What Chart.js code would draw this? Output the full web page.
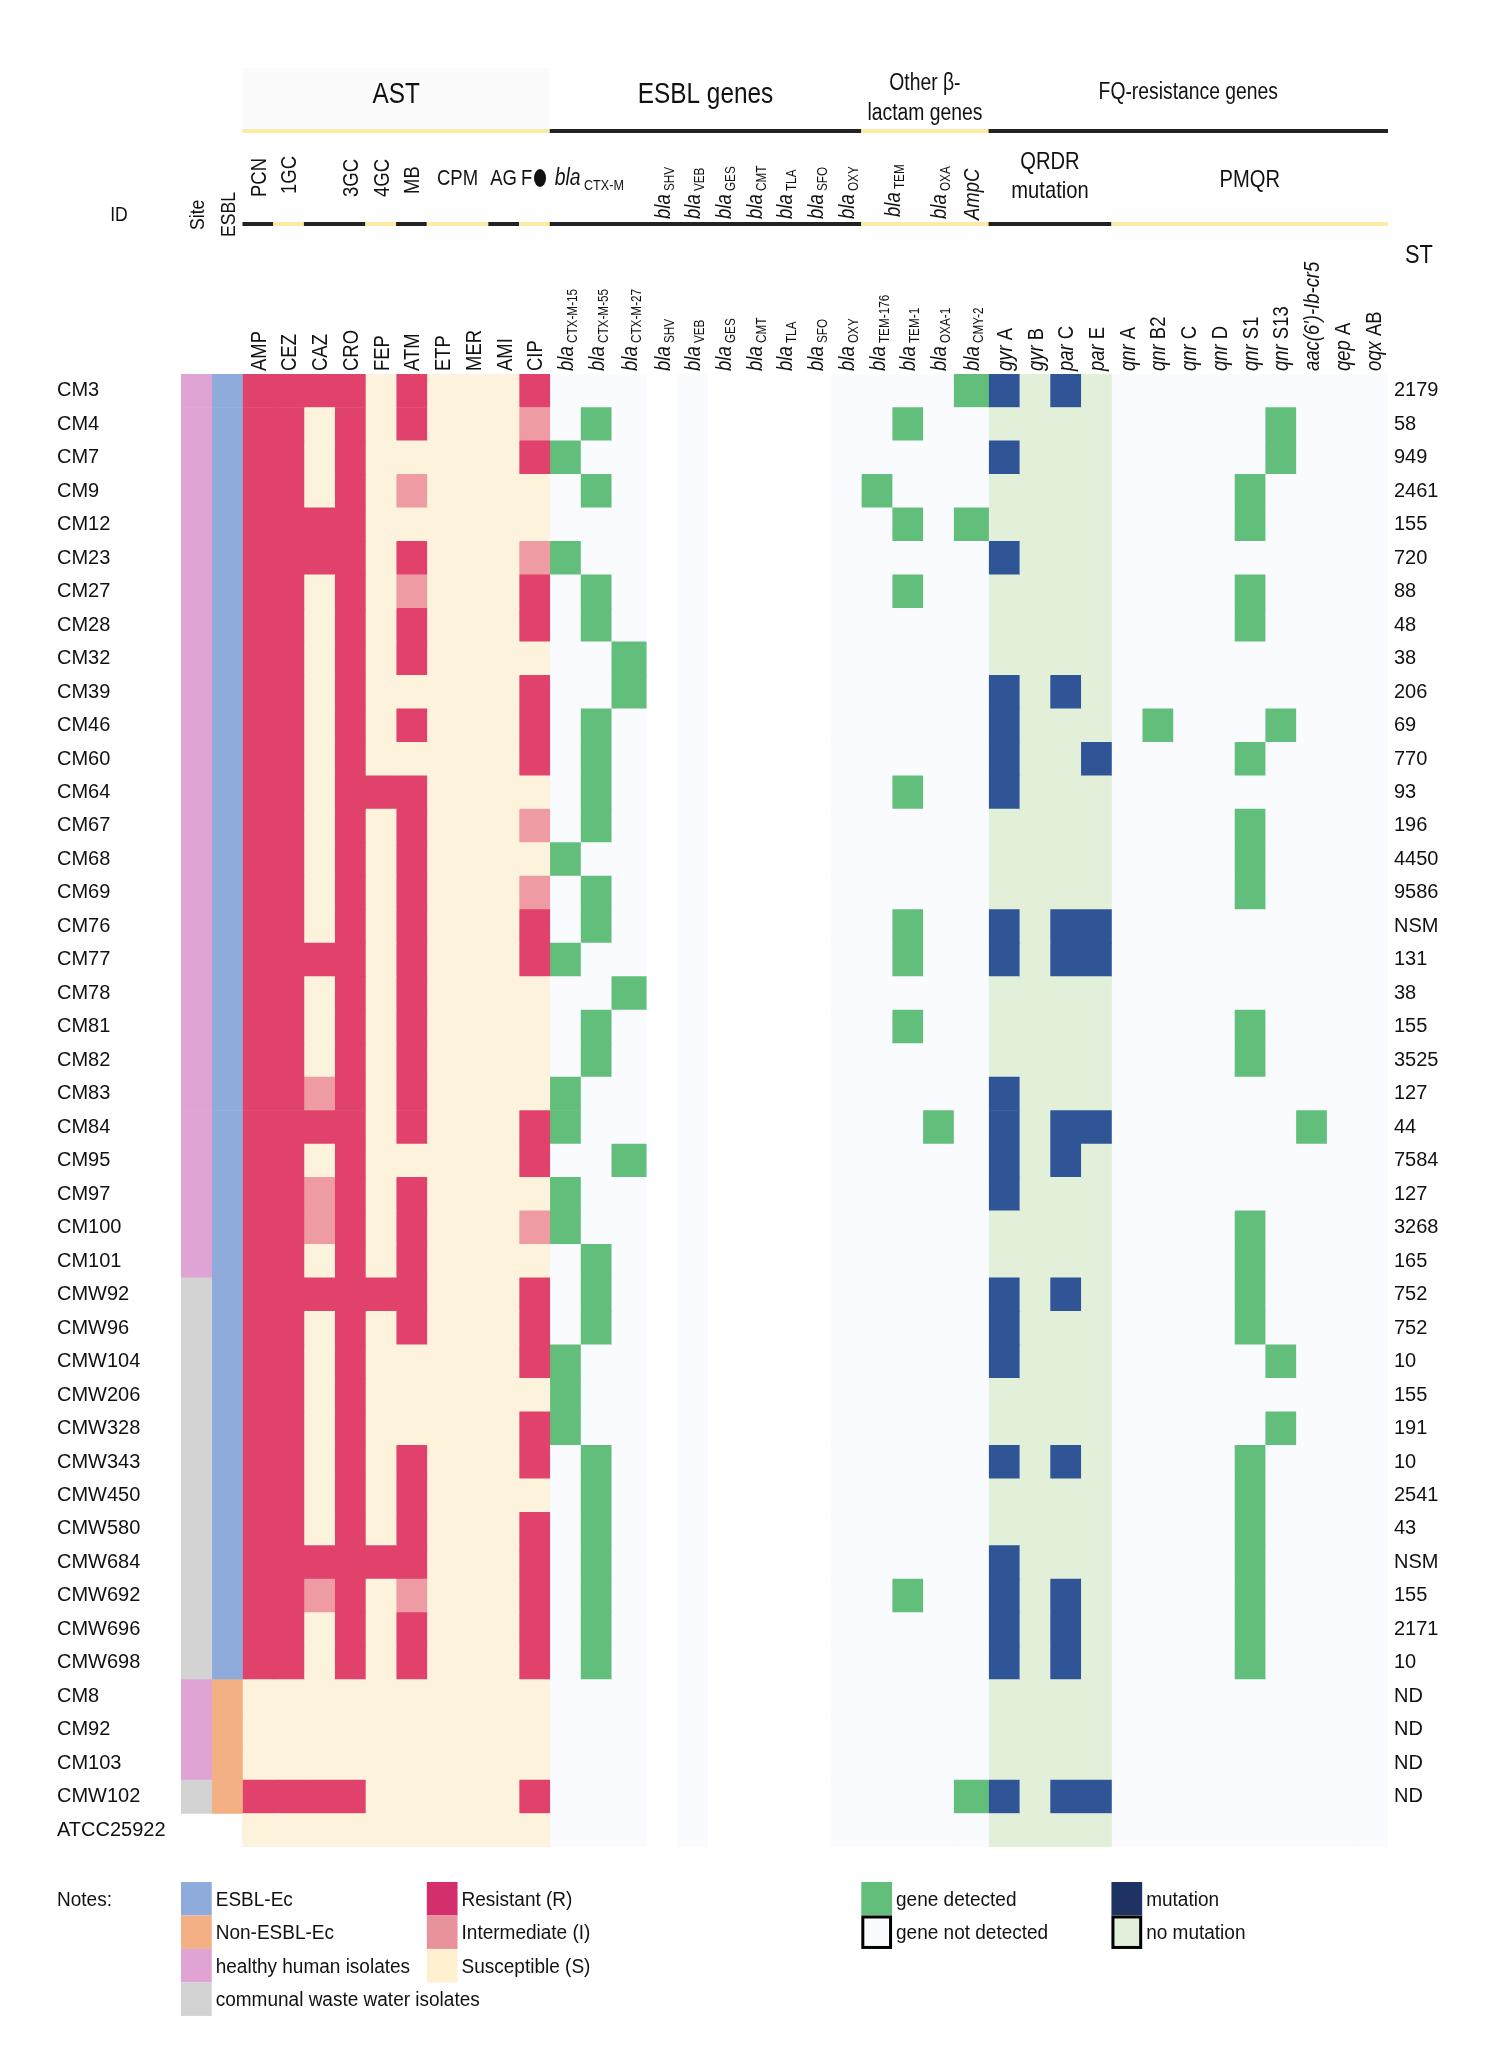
<!DOCTYPE html>
<html>
<head>
<meta charset="utf-8">
<script src="https://cdn.jsdelivr.net/npm/chart.js@4.4.1/dist/chart.umd.min.js"></script>
<style>
  html, body { margin: 0; padding: 0; background: #fff; }
  canvas { display: block; }
</style>
</head>
<body>
<canvas id="heat" width="1502" height="2072"></canvas>
<script>
// isolates (rows) and their sequence types
const ids = ['CM3','CM4','CM7','CM9','CM12','CM23','CM27','CM28','CM32','CM39','CM46','CM60','CM64','CM67','CM68','CM69','CM76','CM77','CM78','CM81','CM82','CM83','CM84','CM95','CM97','CM100','CM101','CMW92','CMW96','CMW104','CMW206','CMW328','CMW343','CMW450','CMW580','CMW684','CMW692','CMW696','CMW698','CM8','CM92','CM103','CMW102','ATCC25922'];
const stTypes = ['2179','58','949','2461','155','720','88','48','38','206','69','770','93','196','4450','9586','NSM','131','38','155','3525','127','44','7584','127','3268','165','752','752','10','155','191','10','2541','43','NSM','155','2171','10','ND','ND','ND','ND',''];

// H = healthy human, W = communal waste water ; E = ESBL-Ec, N = non-ESBL-Ec
const site = 'HHHHHHHHHHHHHHHHHHHHHHHHHHHWWWWWWWWWWWWHHHW-'.split('');
const esbl = 'EEEEEEEEEEEEEEEEEEEEEEEEEEEEEEEEEEEEEEENNNN-'.split('');

// AST results, one letter per drug (R / I / S)
const astDrugs = ['AMP','CEZ','CAZ','CRO','FEP','ATM','ETP','MER','AMI','CIP'];
const astResults = [
  'RRRRSRSSSR','RRSRSRSSSI','RRSRSSSSSR','RRSRSISSSS','RRRRSSSSSS','RRRRSRSSSI',
  'RRSRSISSSR','RRSRSRSSSR','RRSRSRSSSS','RRSRSSSSSR','RRSRSRSSSR','RRSRSSSSSR',
  'RRSRRRSSSS','RRSRSRSSSI','RRSRSRSSSS','RRSRSRSSSI','RRSRSRSSSR','RRRRSRSSSR',
  'RRSRSRSSSS','RRSRSRSSSS','RRSRSRSSSS','RRIRSRSSSS','RRRRSRSSSR','RRSRSSSSSR',
  'RRIRSRSSSS','RRIRSRSSSI','RRSRSRSSSS','RRRRRRSSSR','RRSRSRSSSR','RRSRSSSSSR',
  'RRSRSSSSSS','RRSRSSSSSR','RRSRSRSSSR','RRSRSRSSSS','RRSRSRSSSR','RRRRRRSSSR',
  'RRIRSISSSR','RRSRSRSSSR','RRSRSRSSSR','SSSSSSSSSS','SSSSSSSSSS','SSSSSSSSSS',
  'RRRRSSSSSR','SSSSSSSSSS'
];

// gene columns
const betaGenes = ['CTX-M-15','CTX-M-55','CTX-M-27','SHV','VEB','GES','CMT','TLA','SFO','OXY','TEM-176','TEM-1','OXA-1','CMY-2'];
const qrdrGenes = ['gyrA','gyrB','parC','parE'];
const pmqrGenes = ['qnrA','qnrB2','qnrC','qnrD','qnrS1','qnrS13',"aac(6')-Ib-cr5",'qepA','oqxAB'];

// genes detected / QRDR mutations found, per isolate
const genesFound = [
  ['CMY-2','gyrA','parC'],
  ['CTX-M-55','TEM-1','qnrS13'],
  ['CTX-M-15','gyrA','qnrS13'],
  ['CTX-M-55','TEM-176','qnrS1'],
  ['TEM-1','CMY-2','qnrS1'],
  ['CTX-M-15','gyrA'],
  ['CTX-M-55','TEM-1','qnrS1'],
  ['CTX-M-55','qnrS1'],
  ['CTX-M-27'],
  ['CTX-M-27','gyrA','parC'],
  ['CTX-M-55','gyrA','qnrB2','qnrS13'],
  ['CTX-M-55','gyrA','parE','qnrS1'],
  ['CTX-M-55','TEM-1','gyrA'],
  ['CTX-M-55','qnrS1'],
  ['CTX-M-15','qnrS1'],
  ['CTX-M-55','qnrS1'],
  ['CTX-M-55','TEM-1','gyrA','parC','parE'],
  ['CTX-M-15','TEM-1','gyrA','parC','parE'],
  ['CTX-M-27'],
  ['CTX-M-55','TEM-1','qnrS1'],
  ['CTX-M-55','qnrS1'],
  ['CTX-M-15','gyrA'],
  ['CTX-M-15','OXA-1','gyrA','parC','parE',"aac(6')-Ib-cr5"],
  ['CTX-M-27','gyrA','parC'],
  ['CTX-M-15','gyrA'],
  ['CTX-M-15','qnrS1'],
  ['CTX-M-55','qnrS1'],
  ['CTX-M-55','gyrA','parC','qnrS1'],
  ['CTX-M-55','gyrA','qnrS1'],
  ['CTX-M-15','gyrA','qnrS13'],
  ['CTX-M-15'],
  ['CTX-M-15','qnrS13'],
  ['CTX-M-55','gyrA','parC','qnrS1'],
  ['CTX-M-55','qnrS1'],
  ['CTX-M-55','qnrS1'],
  ['CTX-M-55','gyrA','qnrS1'],
  ['CTX-M-55','TEM-1','gyrA','parC','qnrS1'],
  ['CTX-M-55','gyrA','parC','qnrS1'],
  ['CTX-M-55','gyrA','parC','qnrS1'],
  [], [], [],
  ['CMY-2','gyrA','parC','parE'],
  []
];

const COLORS = {
  H: '#dfa3d4', W: '#d3d3d3', E: '#8eabdc', N: '#f3b084',
  R: '#e0426b', I: '#ef9ba3', S: '#fdf3dc',
  gene: '#62be7b', none: '#fafbfe', mut: '#2f5597', nomut: '#e2efd9'
};
// a few empty gene columns are plain white in the original
const whiteCols = ['SHV', 'GES', 'CMT', 'TLA', 'SFO'];

// column list: site, esbl, AST drugs, then genes
const cols = [{ kind: 'site' }, { kind: 'esbl' }]
  .concat(astDrugs.map((d, i) => ({ kind: 'ast', idx: i, name: d })))
  .concat(betaGenes.map(g => ({ kind: 'gene', name: g })))
  .concat(qrdrGenes.map(g => ({ kind: 'qrdr', name: g })))
  .concat(pmqrGenes.map(g => ({ kind: 'gene', name: g })));
const wide = ['CTX-M-27', 'CMY-2'];
const widths = cols.map(c => wide.includes(c.name) ? 1.14 : 1);
const starts = [];
widths.reduce((acc, w) => { starts.push(acc); return acc + w; }, 0);
const total = widths.reduce((a, b) => a + b, 0);

function cellColor(c, r) {
  if (c.kind === 'site') return site[r] === '-' ? 'rgba(0,0,0,0)' : COLORS[site[r]];
  if (c.kind === 'esbl') return esbl[r] === '-' ? 'rgba(0,0,0,0)' : COLORS[esbl[r]];
  if (c.kind === 'ast') return COLORS[astResults[r][c.idx]];
  const hit = genesFound[r].includes(c.name);
  if (c.kind === 'qrdr') return hit ? COLORS.mut : COLORS.nomut;
  if (hit) return COLORS.gene;
  return whiteCols.includes(c.name) ? '#ffffff' : COLORS.none;
}

const datasets = cols.map((c, ci) => ({
  label: c.name || c.kind,
  data: ids.map(() => widths[ci]),
  backgroundColor: ids.map((_, ri) => cellColor(c, ri)),
  borderWidth: 0,
  barPercentage: 1,
  categoryPercentage: 1,
  stack: 'grid'
}));

// ---- text helpers (narrow Arial look = Liberation Sans squeezed) ----
const FAM = "'Liberation Sans', Arial, sans-serif";
const SQ = 0.84;
function fontOf(r) { return (r.it ? 'italic ' : '') + r.size + 'px ' + FAM; }
function drawRuns(ctx, runs, x, y, align, rot, sq) {
  ctx.save();
  ctx.translate(x, y);
  if (rot) ctx.rotate(-Math.PI / 2);
  ctx.scale(sq || SQ, 1);
  ctx.textBaseline = 'alphabetic';
  ctx.textAlign = 'left';
  let w = 0;
  runs.forEach(r => { ctx.font = fontOf(r); r.w = ctx.measureText(r.t).width; w += r.w; });
  let cx = align === 'center' ? -w / 2 : align === 'right' ? -w : 0;
  runs.forEach(r => { ctx.font = fontOf(r); ctx.fillText(r.t, cx, r.dy || 0); cx += r.w; });
  ctx.restore();
}
// horizontal text centred on (x, yMid)
function hText(ctx, runs, x, yMid, align, size, sq) {
  drawRuns(ctx, runs, x, yMid + size * 0.36, align || 'center', false, sq);
}
// vertical text, bottom at yBottom, centred on column x
function vText(ctx, runs, x, yBottom, size) {
  drawRuns(ctx, runs, x + size * 0.36, yBottom, 'left', true);
}

const headerPlugin = {
  id: 'header',
  afterDraw(chart) {
    const ctx = chart.ctx;
    const xs = chart.scales.x;
    const ys = chart.scales.y;
    const L = i => xs.getPixelForValue(starts[i]);
    const R = i => xs.getPixelForValue(starts[i] + widths[i]);
    const M = (a, b) => (L(a) + R(b === undefined ? a : b)) / 2;
    const YEL = '#fdeaa3', BLK = '#222222';
    ctx.save();

    // faint header panel behind AST
    ctx.fillStyle = '#fbfbfb';
    ctx.fillRect(L(2), 68, R(11) - L(2), 60);
    ctx.fillStyle = '#111';

    // level 1 titles
    hText(ctx, [{ t: 'AST', size: 29 }], M(2, 11), 93, 'center', 29);
    hText(ctx, [{ t: 'ESBL genes', size: 29 }], M(12, 21), 93, 'center', 29);
    hText(ctx, [{ t: 'Other \u03b2-', size: 23 }], M(22, 25), 82, 'center', 23);
    hText(ctx, [{ t: 'lactam genes', size: 23 }], M(22, 25), 112, 'center', 23);
    hText(ctx, [{ t: 'FQ-resistance genes', size: 23 }], M(26, 38), 91, 'center', 23);

    const seg = (a, b, color, y) => {
      ctx.fillStyle = color;
      ctx.fillRect(L(a), y - 2, R(b) - L(a), 4);
    };
    seg(2, 11, YEL, 131); seg(12, 21, BLK, 131); seg(22, 25, YEL, 131); seg(26, 38, BLK, 131);
    [[2, 2, BLK], [3, 3, YEL], [4, 5, BLK], [6, 6, YEL], [7, 7, BLK], [8, 9, YEL], [10, 10, BLK],
     [11, 11, YEL], [12, 21, BLK], [22, 25, YEL], [26, 29, BLK], [30, 38, YEL]]
      .forEach(s => seg(s[0], s[1], s[2], 224));
    ctx.fillStyle = '#111';

    // level 2 labels
    vText(ctx, [{ t: 'PCN', size: 22 }], M(2), 197, 22);
    vText(ctx, [{ t: '1GC', size: 22 }], M(3), 194, 22);
    vText(ctx, [{ t: '3GC', size: 22 }], M(5), 197, 22);
    vText(ctx, [{ t: '4GC', size: 22 }], M(6), 197, 22);
    vText(ctx, [{ t: 'MB', size: 22 }], M(7), 194, 22);
    hText(ctx, [{ t: 'CPM', size: 22 }], M(8, 9), 177, 'center', 22);
    hText(ctx, [{ t: 'AG', size: 22 }], M(10), 177, 'center', 22);
    hText(ctx, [{ t: 'F', size: 22 }], L(11) + 2, 177, 'left', 22);
    ctx.beginPath();
    ctx.ellipse(L(11) + 21, 178, 6, 9, 0, 0, Math.PI * 2);
    ctx.fill();
    hText(ctx, [{ t: 'bla', size: 23, it: true }, { t: ' CTX-M', size: 15, dy: 5 }], L(12) + 5, 177, 'left', 23);
    ['SHV', 'VEB', 'GES', 'CMT', 'TLA', 'SFO', 'OXY'].forEach((g, k) => {
      vText(ctx, [{ t: 'bla', size: 22, it: true }, { t: ' ' + g, size: 14, dy: 4 }], M(15 + k), 219, 22);
    });
    vText(ctx, [{ t: 'bla', size: 22, it: true }, { t: ' TEM', size: 14, dy: 4 }], R(22), 217, 22);
    vText(ctx, [{ t: 'bla', size: 22, it: true }, { t: ' OXA', size: 14, dy: 4 }], M(24), 219, 22);
    vText(ctx, [{ t: 'AmpC', size: 22, it: true }], M(25), 220, 22);
    hText(ctx, [{ t: 'QRDR', size: 24 }], M(26, 29), 160, 'center', 24);
    hText(ctx, [{ t: 'mutation', size: 24 }], M(26, 29), 189, 'center', 24);
    hText(ctx, [{ t: 'PMQR', size: 24 }], M(30, 38), 178, 'center', 24);

    // row-header titles
    hText(ctx, [{ t: 'ID', size: 21 }], 119, 213, 'center', 21);
    vText(ctx, [{ t: 'Site', size: 21 }], M(0), 230, 21);
    vText(ctx, [{ t: 'ESBL', size: 21 }], M(1), 237, 21);
    hText(ctx, [{ t: 'ST', size: 26 }], 1419, 254, 'center', 26);

    // level 3 column labels
    const bottom3 = ys.top - 3;
    cols.forEach((c, i) => {
      if (c.kind === 'ast') {
        vText(ctx, [{ t: c.name, size: 22 }], M(i), bottom3, 22);
      } else if (i >= 12 && i <= 25) {
        vText(ctx, [{ t: 'bla', size: 22, it: true }, { t: ' ' + c.name, size: 14, dy: 4 }], M(i), bottom3, 22);
      } else if (i >= 26) {
        const n = c.name;
        let runs;
        if (n.startsWith('aac')) runs = [{ t: n, size: 22, it: true }];
        else {
          const m = n.match(/^([a-z]+)(.*)$/);
          runs = [{ t: m[1], size: 22, it: true }, { t: ' ' + m[2], size: 22 }];
        }
        vText(ctx, runs, M(i), bottom3, 22);
      }
    });

    // legend ("Notes")
    const rowH = (ys.bottom - ys.top) / ids.length;
    const ly = ys.bottom + 35;
    const box = (ci, k, color, border) => {
      const x0 = L(ci), w = R(ci) - L(ci), y0 = ly + k * rowH;
      ctx.fillStyle = color;
      ctx.fillRect(x0, y0, w, rowH);
      if (border) {
        ctx.strokeStyle = '#000';
        ctx.lineWidth = 3;
        ctx.strokeRect(x0 + 1.5, y0 + 1.5, w - 3, rowH - 3);
      }
      return { x: x0 + w + 4, y: y0 + rowH / 2 };
    };
    const label = (p, t) => {
      ctx.fillStyle = '#111';
      hText(ctx, [{ t: t, size: 20 }], p.x, p.y, 'left', 20, 0.95);
    };
    ctx.fillStyle = '#111';
    hText(ctx, [{ t: 'Notes:', size: 20 }], 57, ly + rowH / 2, 'left', 20, 0.95);
    label(box(0, 0, COLORS.E), 'ESBL-Ec');
    label(box(0, 1, COLORS.N), 'Non-ESBL-Ec');
    label(box(0, 2, COLORS.H), 'healthy human isolates');
    label(box(0, 3, COLORS.W), 'communal waste water isolates');
    label(box(8, 0, '#d42e6c'), 'Resistant (R)');
    label(box(8, 1, '#e8929c'), 'Intermediate (I)');
    label(box(8, 2, '#fff1cf'), 'Susceptible (S)');
    label(box(22, 0, COLORS.gene), 'gene detected');
    label(box(22, 1, COLORS.none, true), 'gene not detected');
    label(box(30, 0, '#1e3264'), 'mutation');
    label(box(30, 1, COLORS.nomut, true), 'no mutation');

    ctx.restore();
  }
};

new Chart(document.getElementById('heat'), {
  type: 'bar',
  data: { labels: ids, datasets: datasets },
  options: {
    indexAxis: 'y',
    responsive: false,
    animation: false,
    devicePixelRatio: 1,
    events: [],
    layout: { padding: { left: 57, right: 0, top: 374, bottom: 225 } },
    plugins: { legend: { display: false }, tooltip: { enabled: false } },
    scales: {
      x: { type: 'linear', stacked: true, min: 0, max: total, display: false },
      y: {
        type: 'category', stacked: true, offset: true,
        grid: { display: false, drawTicks: false }, border: { display: false },
        ticks: { autoSkip: false, crossAlign: 'far', padding: 0, color: '#111',
                 font: { family: FAM, size: 20 } },
        afterFit: s => { s.width = 124; }
      },
      y2: {
        type: 'category', labels: stTypes, position: 'right', offset: true,
        grid: { display: false, drawTicks: false }, border: { display: false },
        ticks: { autoSkip: false, padding: 6, color: '#111',
                 font: { family: FAM, size: 20 } },
        afterFit: s => { s.width = 114; }
      }
    }
  },
  plugins: [headerPlugin]
});
</script>
</body>
</html>
